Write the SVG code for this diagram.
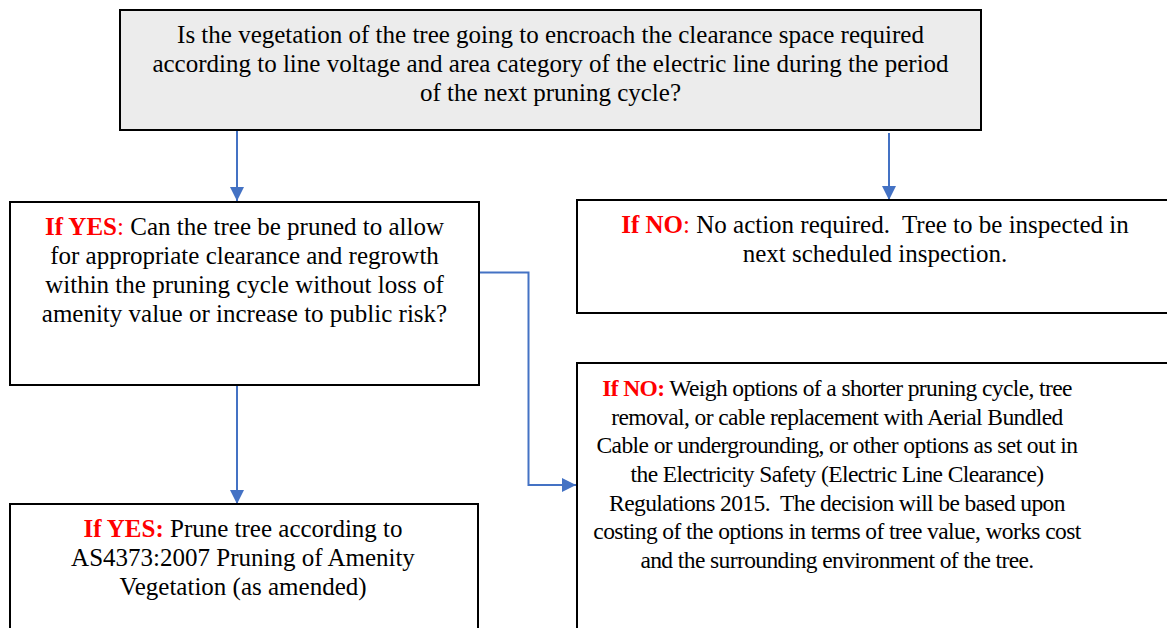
<svg xmlns="http://www.w3.org/2000/svg" width="1167" height="628" viewBox="0 0 1167 628">
<style>
.box{fill:#fff;stroke:#000;stroke-width:2}
.grey{fill:#ececec}
text{font-family:"Liberation Serif","Times New Roman",serif;font-size:25px;fill:#000;text-anchor:middle}
.s{font-size:23.5px;letter-spacing:-0.6px}
.r{fill:#ff0000;font-weight:bold}
.rn{fill:#ff0000}
.conn{fill:none;stroke:#4472c4;stroke-width:2}
</style>
<defs>
<marker id="ah" viewBox="0 0 10 10" refX="10" refY="5" markerWidth="7" markerHeight="7" markerUnits="strokeWidth" orient="auto">
<path d="M0,0 L10,5 L0,10 z" fill="#4472c4"/>
</marker>
</defs>
<g id="connectors">
<line class="conn" x1="237" y1="130" x2="237" y2="201" marker-end="url(#ah)"/>
<line class="conn" x1="889" y1="133" x2="889" y2="200" marker-end="url(#ah)"/>
<line class="conn" x1="237" y1="386" x2="237" y2="504" marker-end="url(#ah)"/>
<polyline class="conn" points="479,272.5 528.5,272.5 528.5,485 576,485" marker-end="url(#ah)"/>
</g>
<g id="q1">
<rect class="box grey" x="120" y="10" width="861" height="120"/>
<text x="550.5" y="43">Is the vegetation of the tree going to encroach the clearance space required</text>
<text x="550.5" y="72">according to line voltage and area category of the electric line during the period</text>
<text x="550.5" y="101">of the next pruning cycle?</text>
</g>
<g id="yes1">
<rect class="box" x="10" y="202" width="469" height="183"/>
<text x="244.5" y="235"><tspan class="r">If YES</tspan><tspan class="rn">:</tspan> Can the tree be pruned to allow</text>
<text x="244.5" y="264">for appropriate clearance and regrowth</text>
<text x="244.5" y="293">within the pruning cycle without loss of</text>
<text x="244.5" y="322">amenity value or increase to public risk?</text>
</g>
<g id="no1">
<rect class="box" x="577" y="200" width="600" height="113"/>
<text x="875" y="233"><tspan class="r">If NO</tspan><tspan class="rn">:</tspan> No action required.&#160; Tree to be inspected in</text>
<text x="875" y="262">next scheduled inspection.</text>
</g>
<g id="yes2">
<rect class="box" x="10" y="504" width="468" height="140"/>
<text x="243" y="537"><tspan class="r">If YES:</tspan> Prune tree according to</text>
<text x="243" y="566">AS4373:2007 Pruning of Amenity</text>
<text x="243" y="595">Vegetation (as amended)</text>
</g>
<g id="no2">
<rect class="box" x="577" y="363" width="600" height="290"/>
<text class="s" x="837" y="396"><tspan class="r">If NO:</tspan> Weigh options of a shorter pruning cycle, tree</text>
<text class="s" x="837" y="424.5">removal, or cable replacement with Aerial Bundled</text>
<text class="s" x="837" y="453">Cable or undergrounding, or other options as set out in</text>
<text class="s" x="837" y="482">the Electricity Safety (Electric Line Clearance)</text>
<text class="s" x="837" y="510.5">Regulations 2015.&#160; The decision will be based upon</text>
<text class="s" x="837" y="539">costing of the options in terms of tree value, works cost</text>
<text class="s" x="837" y="568">and the surrounding environment of the tree.</text>
</g>
</svg>
